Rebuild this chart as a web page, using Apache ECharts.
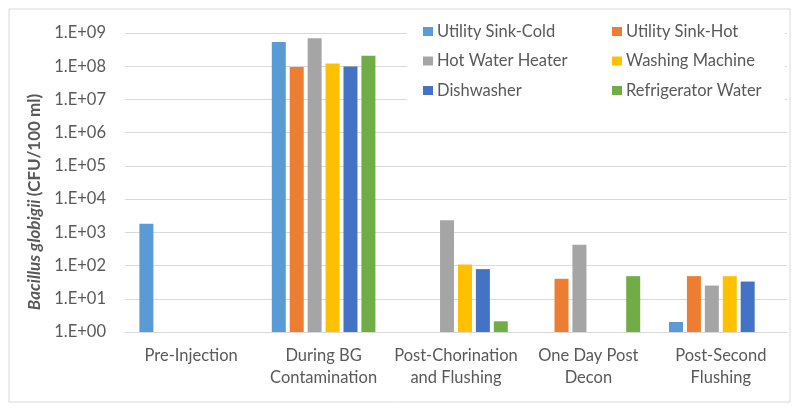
<!DOCTYPE html>
<html><head><meta charset="utf-8">
<script src="https://cdn.jsdelivr.net/npm/echarts@6/dist/echarts.min.js"></script>
<style>html,body{margin:0;padding:0;background:#fff}#c{width:800px;height:414px}</style>
</head><body><div id="c"></div>
<script>
const categories = ["Pre-Injection", "During BG\nContamination", "Post-Chorination\nand Flushing", "One Day Post\nDecon", "Post-Second\nFlushing"];
const seriesNames = ["Utility Sink-Cold", "Utility Sink-Hot", "Hot Water Heater", "Washing Machine", "Dishwasher", "Refrigerator Water"];
const utilitySinkCold = [1800, 5.4e8, null, null, 2];
const utilitySinkHot = [null, 9.5e7, null, 40, 48];
const hotWaterHeater = [null, 6.9e8, 2300, 420, 25];
const washingMachine = [null, 1.2e8, 107, null, 48];
const dishwasher = [null, 9.8e7, 78, null, 33];
const refrigeratorWater = [null, 2.05e8, 2.1, 48, null];
const yTicks = ["1.E+00","1.E+01","1.E+02","1.E+03","1.E+04","1.E+05","1.E+06","1.E+07","1.E+08","1.E+09"];
const colors = ["#5B9BD5", "#ED7D31", "#A5A5A5", "#FFC000", "#4472C4", "#70AD47"];
const allData = [utilitySinkCold, utilitySinkHot, hotWaterHeater, washingMachine, dishwasher, refrigeratorWater];

const FONT = "Lato";
const FS = 16.5;
const chart = echarts.init(document.getElementById('c'), null, {renderer: 'canvas'});
chart.setOption({
  animation: false,
  color: colors,
  textStyle: {fontFamily: FONT},
  grid: {left: 125, right: 13, top: 33, bottom: 82},
  legend: [
    {data: [seriesNames[0], seriesNames[2], seriesNames[4]], orient: 'vertical', left: 418, top: 18, padding: 5, itemWidth: 10, itemHeight: 9, itemGap: 12.5, icon: 'rect', z: 5,
     textStyle: {fontFamily: FONT, fontSize: FS, color: '#595959', padding: [0, 0, 0, -1]}},
    {data: [seriesNames[1], seriesNames[3], seriesNames[5]], orient: 'vertical', left: 607, top: 18, padding: 5, itemWidth: 10, itemHeight: 9, itemGap: 12.5, icon: 'rect', z: 5,
     textStyle: {fontFamily: FONT, fontSize: FS, color: '#595959', padding: [0, 0, 0, -1]}}
  ],
  graphic: [
    {type: 'rect', shape: {x: 9, y: 9, width: 781, height: 393}, style: {fill: 'none', stroke: '#d9d9d9', lineWidth: 1}, z: 0, silent: true},
    {type: 'rect', shape: {x: 407, y: 15, width: 378, height: 92}, style: {fill: '#fff'}, z: 3, silent: true},
    {type: 'text', x: 35, y: 202, rotation: Math.PI / 2, z: 5,
     style: {text: '{i|Bacillus globigii} {b|(CFU/100 ml)}', align: 'center', verticalAlign: 'middle',
       rich: {i: {fontFamily: FONT, fontSize: 17, fontWeight: 'bold', fontStyle: 'italic', fill: '#595959'},
              b: {fontFamily: FONT, fontSize: 17, fontWeight: 'bold', fill: '#595959'}}}}
  ],
  xAxis: {
    type: 'category', data: categories,
    axisLine: {lineStyle: {color: '#d9d9d9'}}, axisTick: {show: false},
    axisLabel: {fontFamily: FONT, fontSize: FS, color: '#595959', margin: 13, lineHeight: 22, interval: 0}
  },
  yAxis: {
    type: 'log', logBase: 10, min: 1, max: 1e9, interval: 1, splitNumber: 9,
    axisLine: {show: false}, axisTick: {show: false},
    splitLine: {lineStyle: {color: '#d9d9d9'}},
    axisLabel: {fontFamily: FONT, fontSize: FS, color: '#595959', margin: 19,
      formatter: v => yTicks[Math.round(Math.log10(v))]}
  },
  series: seriesNames.map((n, i) => ({
    name: n, type: 'bar', data: allData[i], barWidth: 14, barGap: '28%', barCategoryGap: '21%'
  }))
});
</script></body></html>
